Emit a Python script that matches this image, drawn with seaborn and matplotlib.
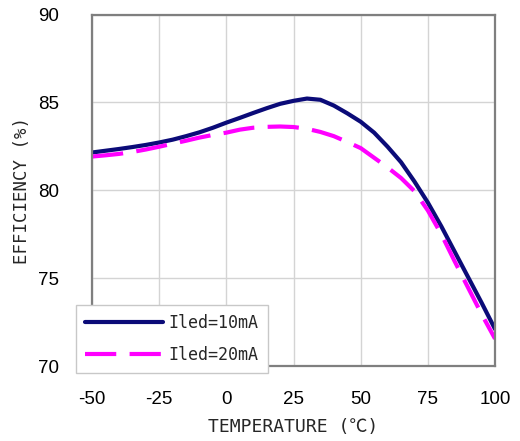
import numpy as np
import pandas as pd
import seaborn as sns
import matplotlib
matplotlib.use("Agg")
import matplotlib.pyplot as plt

# Temperature sweep (°C)
temperature = [-50, -45, -40, -35, -30, -25, -20, -15, -10, -5, 0, 5, 10, 15, 20,
               25, 30, 35, 40, 45, 50, 55, 60, 65, 70, 75, 80, 85, 90, 95, 100]

# Efficiency (%) at Iled = 10 mA
eff_10ma = [82.15, 82.25, 82.35, 82.46, 82.58, 82.72, 82.88, 83.08, 83.30, 83.56,
            83.85, 84.12, 84.40, 84.67, 84.92, 85.09, 85.22, 85.15, 84.82, 84.38,
            83.90, 83.28, 82.48, 81.60, 80.50, 79.30, 77.95, 76.50, 75.05, 73.60,
            72.10]

# Efficiency (%) at Iled = 20 mA
eff_20ma = [81.92, 81.99, 82.07, 82.18, 82.32, 82.48, 82.65, 82.82, 83.00, 83.15,
            83.28, 83.45, 83.56, 83.61, 83.63, 83.60, 83.50, 83.32, 83.08, 82.75,
            82.40, 81.85, 81.30, 80.70, 79.95, 78.85, 77.50, 75.95, 74.45, 72.95,
            71.55]

series_names = ["Iled=10mA", "Iled=20mA"]
x_ticks = [-50, -25, 0, 25, 50, 75, 100]
y_ticks = [70, 75, 80, 85, 90]

df = pd.concat([
    pd.DataFrame({"temp": temperature, "eff": eff_10ma, "series": series_names[0]}),
    pd.DataFrame({"temp": temperature, "eff": eff_20ma, "series": series_names[1]}),
])

sns.set_theme(style="white")
plt.rcParams["axes.unicode_minus"] = False
mono = ["DejaVu Sans Mono", "Noto Sans CJK JP"]

fig = plt.figure(figsize=(5.2, 4.41), dpi=100)
ax = fig.add_axes([0.177, 0.170, 0.775, 0.797])

sns.lineplot(
    data=df, x="temp", y="eff", hue="series", style="series",
    palette={series_names[0]: "#0b0b78", series_names[1]: "#ff00ff"},
    dashes={series_names[0]: "", series_names[1]: (7.5, 3.2)},
    linewidth=3.0, ax=ax, sort=False, estimator=None,
)

ax.set_xlim(-50, 100)
ax.set_ylim(70, 90)
ax.set_xticks(x_ticks)
ax.set_yticks(y_ticks)
ax.grid(True, color="#d4d4d4", linewidth=1.0)
ax.set_axisbelow(True)
for s in ax.spines.values():
    s.set_color("#7f7f7f")
    s.set_linewidth(1.6)
ax.tick_params(axis="both", length=0, labelsize=13.5, colors="black")
ax.tick_params(axis="x", pad=18)
ax.tick_params(axis="y", pad=24)
for lab in ax.get_xticklabels() + ax.get_yticklabels():
    lab.set_fontfamily("Liberation Sans")

ax.set_xlabel("TEMPERATURE (℃)", family=mono, fontsize=13, labelpad=7)
ax.set_ylabel("EFFICIENCY (%)", family=mono, fontsize=12.5, labelpad=5)

handles, labels = ax.get_legend_handles_labels()
pairs = [(h, l) for h, l in zip(handles, labels) if l in series_names]
leg = ax.legend(
    [p[0] for p in pairs], [p[1] for p in pairs],
    loc="lower left", bbox_to_anchor=(-0.04, -0.02), borderaxespad=0,
    handlelength=4.7, handletextpad=0.3, labelspacing=0.85, borderpad=0.55,
    fancybox=False, framealpha=1, edgecolor="#c8c8c8",
    prop={"family": mono, "size": 12},
)
leg.get_frame().set_linewidth(1.0)
leg.set_zorder(10)

fig.savefig("out.png", dpi=100, facecolor="white")
